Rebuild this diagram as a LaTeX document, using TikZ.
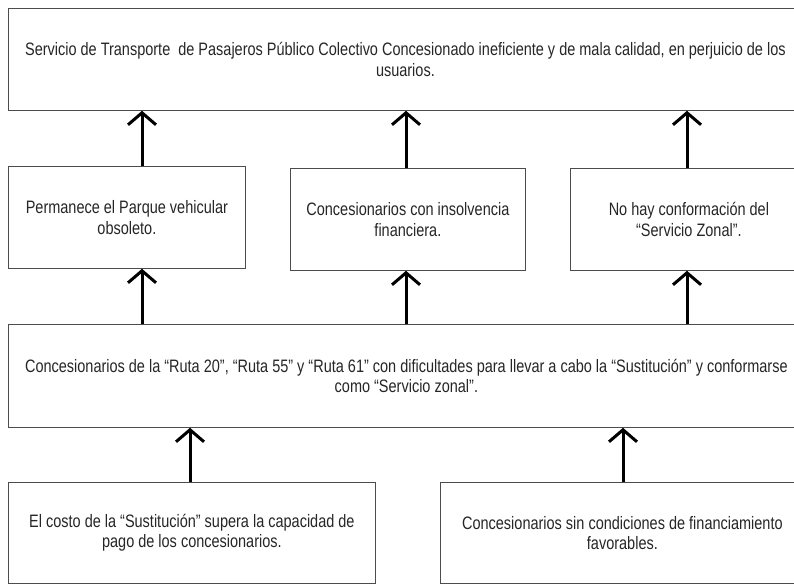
\documentclass[tikz,border=0pt]{standalone}
\usepackage{fontspec}
\setmainfont{Liberation Sans}[FakeStretch=0.805]
\usetikzlibrary{arrows.meta}

\begin{document}
\begin{tikzpicture}[x=1pt, y=-1pt,
  caja/.style={draw=black!70, line width=0.8pt, anchor=north west, align=center,
    inner sep=0pt, text=black!85, font=\fontsize{18}{20.5}\selectfont},
  flecha/.style={line width=3pt, -{Straight Barb[length=12pt, width=28pt]}}]
\useasboundingbox (0,0) rectangle (794,584);
\clip (0,0) rectangle (794,584);

\node[caja, minimum width=794pt, minimum height=102pt] (efecto) at (8, 8)
  {Servicio de Transporte \ de Pasajeros Público Colectivo Concesionado ineficiente y de mala calidad, en perjuicio de los\\usuarios.};

\node[caja, minimum width=237pt, minimum height=102pt] (ef1) at (8, 166)
  {Permanece el Parque vehicular\\obsoleto.};
\node[caja, minimum width=235pt, minimum height=102pt] (ef2) at (290, 168)
  {Concesionarios con insolvencia\\financiera.};
\node[caja, minimum width=237pt, minimum height=102pt] (ef3) at (570, 168)
  {No hay conformación del\\“Servicio Zonal”.};

\node[caja, minimum width=796pt, minimum height=103pt] (problema) at (8, 324)
  {Concesionarios de la “Ruta 20”, “Ruta 55” y “Ruta 61” con dificultades para llevar a cabo la “Sustitución” y conformarse\\como “Servicio zonal”.};

\node[caja, minimum width=367pt, minimum height=101pt] (causa1) at (8, 482)
  {El costo de la “Sustitución” supera la capacidad de\\pago de los concesionarios.};
\node[caja, minimum width=364pt, minimum height=101pt] (causa2) at (440, 482)
  {Concesionarios sin condiciones de financiamiento\\favorables.};

% Arrow columns.
\coordinate (xa) at (142, 0);
\coordinate (xb) at (406, 0);
\coordinate (xc) at (687, 0);
\coordinate (xd) at (190, 0);
\coordinate (xe) at (623, 0);

\draw[flecha] (ef1.north -| xa) -- (efecto.south -| xa);
\draw[flecha] (ef2.north -| xb) -- (efecto.south -| xb);
\draw[flecha] (ef3.north -| xc) -- (efecto.south -| xc);

\draw[flecha] (problema.north -| xa) -- (ef1.south -| xa);
\draw[flecha] (problema.north -| xb) -- (ef2.south -| xb);
\draw[flecha] (problema.north -| xc) -- (ef3.south -| xc);

\draw[flecha] (causa1.north -| xd) -- (problema.south -| xd);
\draw[flecha] (causa2.north -| xe) -- (problema.south -| xe);

\end{tikzpicture}
\end{document}
